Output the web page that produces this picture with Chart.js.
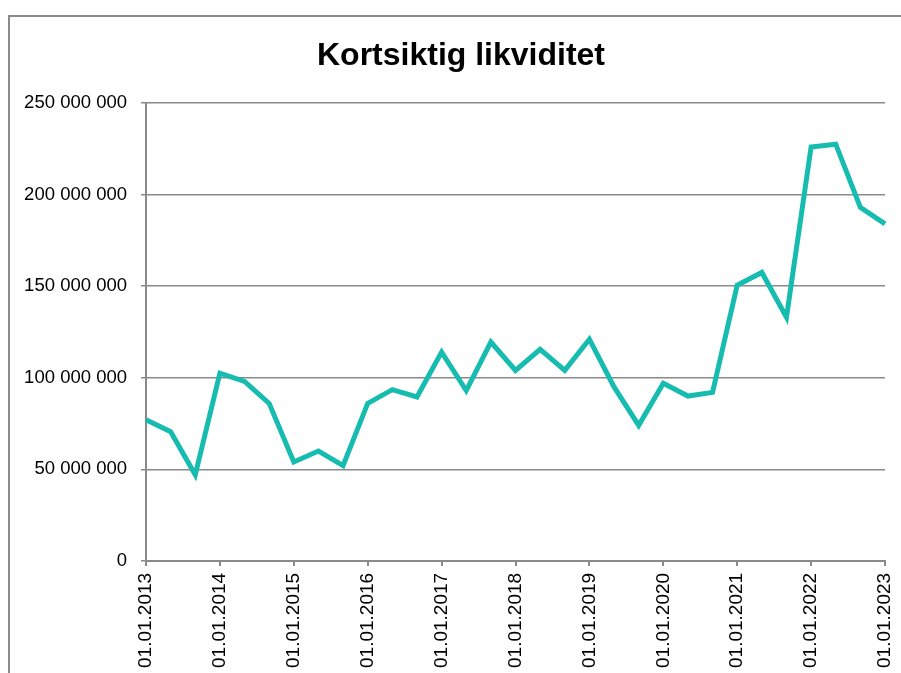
<!DOCTYPE html>
<html>
<head>
<meta charset="utf-8">
<script src="https://cdn.jsdelivr.net/npm/chart.js@4/dist/chart.umd.min.js"></script>
<style>
  body { margin: 0; background: #fff; }
  #wrap { position: relative; width: 901px; height: 673px; overflow: hidden; }
  #frame {
    position: absolute; left: 8px; top: 15px; width: 900px; height: 670px;
    border-left: 2px solid #8a8a8a; border-top: 2px solid #8a8a8a;
  }
  #chart { position: absolute; left: 0; top: 0; }
</style>
</head>
<body>
<div id="wrap">
  <div id="frame"></div>
  <canvas id="chart" width="901" height="673"></canvas>
</div>
<script>
const chartTitle = "Kortsiktig likviditet";

const dates = [
  "01.01.2013", "01.05.2013", "01.09.2013",
  "01.01.2014", "01.05.2014", "01.09.2014",
  "01.01.2015", "01.05.2015", "01.09.2015",
  "01.01.2016", "01.05.2016", "01.09.2016",
  "01.01.2017", "01.05.2017", "01.09.2017",
  "01.01.2018", "01.05.2018", "01.09.2018",
  "01.01.2019", "01.05.2019", "01.09.2019",
  "01.01.2020", "01.05.2020", "01.09.2020",
  "01.01.2021", "01.05.2021", "01.09.2021",
  "01.01.2022", "01.05.2022", "01.09.2022",
  "01.01.2023"
];

const likviditet = [
  77000000, 70500000, 47000000,
  102500000, 98000000, 86000000,
  54000000, 60000000, 52000000,
  86000000, 93500000, 89500000,
  114000000, 93000000, 119500000,
  104000000, 115500000, 104000000,
  121000000, 95000000, 74000000,
  97000000, 90000000, 92000000,
  150500000, 157500000, 133000000,
  226000000, 227500000, 193000000,
  184000000
];

const yTicks = [0, 50000000, 100000000, 150000000, 200000000, 250000000];

const axisGray = "#8a8a8a";

function fmt(v) {
  return String(v).replace(/\B(?=(\d{3})+(?!\d))/g, " ");
}

// title drawn by hand so it can sit off-centre like the original
const titlePlugin = {
  id: "bigTitle",
  afterDraw(chart) {
    const ctx = chart.ctx;
    ctx.save();
    ctx.font = "bold 32px 'Liberation Sans'";
    ctx.fillStyle = "#000";
    ctx.textAlign = "center";
    ctx.textBaseline = "middle";
    ctx.fillText(chartTitle, 461, 56);
    ctx.restore();
  },
};

new Chart(document.getElementById("chart"), {
  type: "line",
  data: {
    labels: dates,
    datasets: [
      {
        label: chartTitle,
        data: likviditet,
        borderColor: "#15bcaf",
        borderWidth: 5,
        pointRadius: 0,
        tension: 0,
        fill: false,
      },
    ],
  },
  plugins: [titlePlugin],
  options: {
    responsive: false,
    animation: false,
    layout: { padding: { left: 20, right: 16, top: 103, bottom: -2 } },
    plugins: {
      legend: { display: false },
      tooltip: { enabled: false },
      title: { display: false },
    },
    scales: {
      x: {
        offset: false,
        afterFit: (scale) => {
          scale.paddingLeft = 0;
          scale.paddingRight = 0;
        },
        border: { display: true, color: axisGray, width: 2 },
        grid: {
          drawOnChartArea: false,
          drawTicks: true,
          tickLength: 5,
          lineWidth: 2,
          color: (ctx) => (ctx.index % 3 === 0 ? axisGray : "rgba(0,0,0,0)"),
        },
        ticks: {
          autoSkip: false,
          maxRotation: 90,
          minRotation: 90,
          padding: 7,
          color: "#000",
          font: { family: "Liberation Sans", size: 19 },
          callback: function (value, index) {
            return index % 3 === 0 ? dates[index] : "";
          },
        },
      },
      y: {
        min: 0,
        max: 250000000,
        afterFit: (scale) => {
          scale.width = 126;
        },
        afterBuildTicks: (scale) => {
          scale.ticks = yTicks.map((v) => ({ value: v }));
        },
        border: { display: true, color: axisGray, width: 2 },
        grid: {
          color: axisGray,
          lineWidth: 1.5,
          tickLength: 5,
        },
        ticks: {
          padding: 14,
          color: "#000",
          font: { family: "Liberation Sans", size: 18.5 },
          callback: (v) => fmt(v),
        },
      },
    },
  },
});
</script>
</body>
</html>
